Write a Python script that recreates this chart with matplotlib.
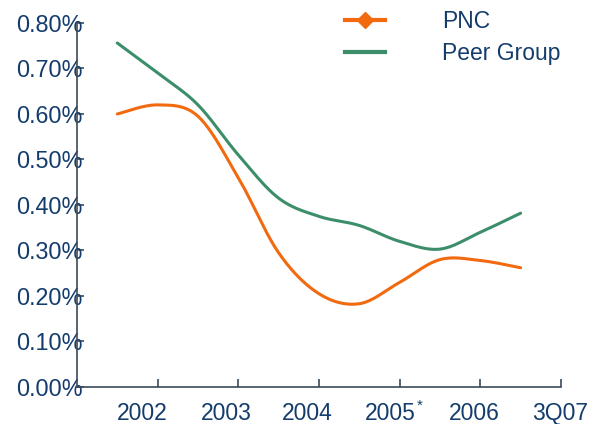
import numpy as np
import matplotlib
matplotlib.use("Agg")
from matplotlib import pyplot as plt
from matplotlib.lines import Line2D

# categories on the x axis
categories = ["2002", "2003", "2004", "2005", "2006", "3Q07"]

# values every half category (in %)
trace_pos = [0, 0.5, 1, 1.5, 2, 2.5, 3, 3.5, 4, 4.5, 5]
pnc = [0.60, 0.62, 0.595, 0.46, 0.295, 0.205, 0.183, 0.23, 0.28, 0.278, 0.262]
peer = [0.756, 0.69, 0.62, 0.51, 0.415, 0.375, 0.355, 0.32, 0.303, 0.34, 0.382]

yticks = [0.0, 0.1, 0.2, 0.3, 0.4, 0.5, 0.6, 0.7, 0.8]

orange = "#f26a10"
green = "#3c8e6a"
navy = "#143c6c"
axcol = "#3b4a5a"


def smooth(xs, ys, n=20):
    # catmull-rom curve through the points (like a smoothed line in excel)
    p = np.column_stack([xs, ys]).astype(float)
    p = np.vstack([p[0], p, p[-1]])
    out = []
    t = np.linspace(0, 1, n, endpoint=False)[:, None]
    for i in range(1, len(p) - 2):
        p0, p1, p2, p3 = p[i - 1], p[i], p[i + 1], p[i + 2]
        c = 0.5 * (2 * p1 + (-p0 + p2) * t + (2 * p0 - 5 * p1 + 4 * p2 - p3) * t ** 2
                   + (-p0 + 3 * p1 - 3 * p2 + p3) * t ** 3)
        out.append(c)
    out.append(p[-2][None, :])
    out = np.vstack(out)
    return out[:, 0], out[:, 1]


plt.rcParams["font.family"] = ["Liberation Sans", "DejaVu Sans"]

fig = plt.figure(figsize=(5.99, 4.24), dpi=100)
ax = fig.add_axes([0.1285, 0.0873, 0.808, 0.8585])

sx, sy = smooth(trace_pos, peer)
ax.plot(sx, sy, color=green, lw=2.2, solid_capstyle="round")
sx, sy = smooth(trace_pos, pnc)
ax.plot(sx, sy, color=orange, lw=2.2, solid_capstyle="round")

ax.set_xlim(-0.5, len(categories) - 0.5)
ax.set_ylim(0, 0.8)

ax.spines["top"].set_visible(False)
ax.spines["right"].set_visible(False)
for s in ("left", "bottom"):
    ax.spines[s].set_color(axcol)
    ax.spines[s].set_linewidth(1.2)

ax.set_yticks(yticks)
ax.set_yticklabels(["%.2f%%" % v for v in yticks])
ax.tick_params(axis="y", direction="in", length=5, width=1.2, color=axcol,
               pad=-4, labelsize=16.8, labelcolor=navy)

# tick marks sit between categories, labels are a bit off them
ax.set_xticks(np.arange(len(categories)) + 0.5, minor=True)
ax.tick_params(axis="x", which="minor", direction="in", length=6, width=1.2, color=axcol)
label_pos = [0.31, 1.35, 2.36, 3.38, 4.43, 5.49]
ax.set_xticks(label_pos)
ax.set_xticklabels(categories)
ax.tick_params(axis="x", which="major", length=0, pad=11, labelsize=16.5, labelcolor=navy)
ax.text(3.75, -0.042, "*", fontsize=11, color=navy, ha="center", va="center",
        clip_on=False)

handles = [Line2D([], [], color=orange, lw=3, marker="D", markersize=8),
           Line2D([], [], color=green, lw=3)]
leg = fig.legend(handles, ["PNC", "Peer Group"], loc="upper left",
                 bbox_to_anchor=(0.576, 0.976), frameon=False, fontsize=16.5,
                 handlelength=1.75, handletextpad=2.5, labelspacing=0.4,
                 borderpad=0, borderaxespad=0, labelcolor=navy)

fig.savefig("out.png", dpi=100)
